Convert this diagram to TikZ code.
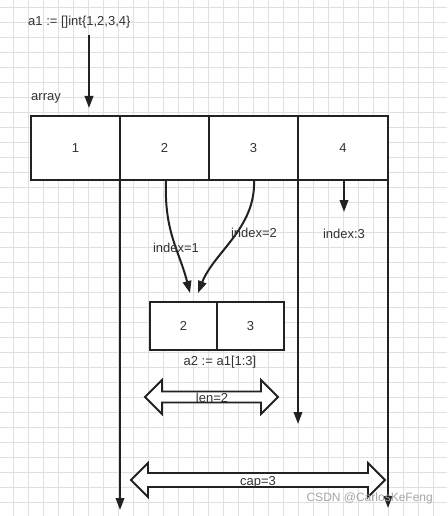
\documentclass[tikz,border=0pt]{standalone}
\usepackage{fontspec}
\setmainfont{Liberation Sans}
\usetikzlibrary{arrows.meta}
\definecolor{gridc}{HTML}{E0E0E0}
\definecolor{ink}{HTML}{222222}
\definecolor{txt}{HTML}{333333}
\tikzset{
  x=1pt, y=-1pt,
  lbl/.style={font=\fontsize{13}{15}\selectfont, text=txt, inner sep=0pt},
  cellthick/.style={draw=ink, line width=2.8pt, fill=white, minimum width=89pt, minimum height=64pt, inner sep=0pt, font=\fontsize{13}{15}\selectfont, text=txt},
  cellthin/.style={draw=ink, line width=2pt, fill=white, minimum width=90pt, minimum height=64pt, inner sep=0pt, font=\fontsize{13}{15}\selectfont, text=txt},
  smallcell/.style={draw=ink, line width=2.2pt, fill=white, minimum width=67pt, minimum height=48pt, inner sep=0pt, font=\fontsize{13}{15}\selectfont, text=txt},
  arr/.style={draw=ink, line width=2pt, -{Triangle[length=12pt,width=8.5pt]}},
  dbl/.style={draw=ink, line width=1.8pt, fill=white, line join=miter},
}
\begin{document}
\begin{tikzpicture}
\useasboundingbox (0,0) rectangle (447,516);
\fill[white] (0,0) rectangle (447,516);
% grid
\foreach \gx in {13,28,...,447} \draw[gridc, line width=0.8pt] (\gx,0) -- (\gx,516);
\foreach \gy in {7,22,...,516} \draw[gridc, line width=0.8pt] (0,\gy) -- (447,\gy);

% texts at top
\node[lbl, anchor=west] (decl) at (28,22) {a1 := []int\{1,2,3,4\}};
\node[lbl, anchor=west] (arrlbl) at (31,98) {array};
\coordinate (declfoot) at (89,35);
\coordinate (arrtop) at (89,108);
\draw[arr] (declfoot) -- (arrtop);

% vertical lines (behind cells)
\coordinate (v1s) at (120,180); \coordinate (v1e) at (120,510);
\coordinate (v2s) at (298,180); \coordinate (v2e) at (298,424);
\coordinate (v3s) at (388,180); \coordinate (v3e) at (388,508);
\draw[arr] (v1s) -- (v1e);
\draw[arr] (v2s) -- (v2e);
\draw[arr] (v3s) -- (v3e);

% big array
\node[cellthin] (c4) at (343,148) {4};
\node[cellthick] (c1) at (75.5,148) {1};
\node[cellthick] (c2) at (164.5,148) {2};
\node[cellthick] (c3) at (253.5,148) {3};

% index arrows
\coordinate (i1s) at (166,180);
\coordinate (i1e) at (190,293);
\coordinate (i2s) at (254,180);
\coordinate (i2e) at (198,293);
\draw[arr] (i1s) .. controls (164,232) and (179,250) .. (i1e);
\draw[arr] (i2s) .. controls (256,228) and (214,252) .. (i2e);
\coordinate (i3s) at (344,180);
\coordinate (i3e) at (344,212);
\draw[arr] (i3s) -- (i3e);

\node[lbl] (l1) at (176,248) {index=1};
\node[lbl] (l2) at (254,233) {index=2};
\node[lbl] (l3) at (344,234) {index:3};

% small array
\node[smallcell] (s1) at (183.5,326) {2};
\node[smallcell] (s2) at (250.5,326) {3};
\node[lbl] (a2) at (220,362) {a2 := a1[1:3]};

% len=2 double arrow
\draw[dbl] (145,397) -- (162,380) -- (162,391.5) -- (261,391.5) -- (261,380) -- (278,397)
  -- (261,414) -- (261,402.5) -- (162,402.5) -- (162,414) -- cycle;
\node[lbl] (len) at (212,397.5) {len=2};

% cap=3 double arrow
\draw[dbl] (131,480) -- (148,463) -- (148,473) -- (368,473) -- (368,463) -- (385,480)
  -- (368,497) -- (368,487) -- (148,487) -- (148,497) -- cycle;
\node[lbl] (cap) at (258,482) {cap=3};

% watermark
\node[font=\fontsize{12}{14}\selectfont, text=black!35, inner sep=0pt, anchor=east] (wm) at (433,498) {CSDN @CarlosKeFeng};
\end{tikzpicture}
\end{document}
